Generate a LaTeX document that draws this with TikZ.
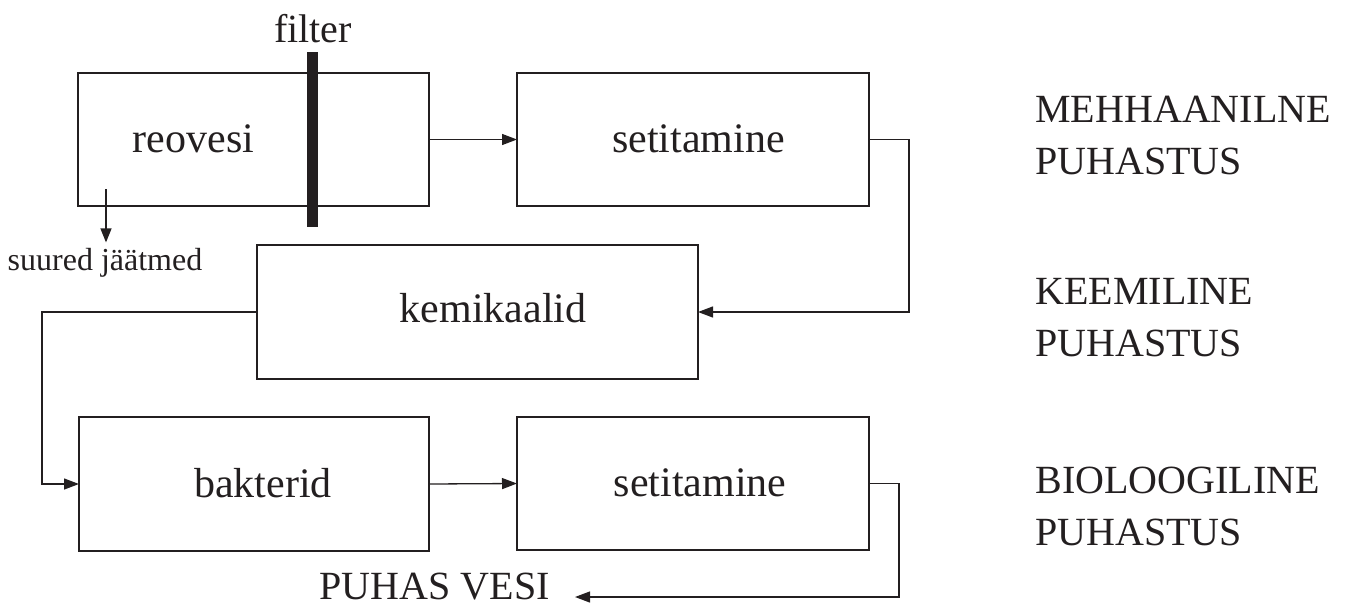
\documentclass[tikz,border=0pt]{standalone}
\usepackage{fontspec}
\setmainfont{Liberation Serif}
\usetikzlibrary{arrows.meta}
\definecolor{ink}{HTML}{231F20}
\begin{document}
\begin{tikzpicture}[x=0.5pt,y=-0.5pt,
  box/.style={draw=ink, line width=0.65pt, rectangle, inner sep=0pt, outer sep=0pt},
  boxtext/.style={text=ink, inner sep=0pt, anchor=base, font=\fontsize{21}{25}\selectfont},
  sidetext/.style={text=ink, inner sep=0pt, anchor=west, align=left, font=\fontsize{20}{26}\selectfont},
  conn/.style={draw=ink, line width=0.65pt},
  arr/.style={conn, -{Triangle[length=7.5pt,width=5.5pt]}},
  smallarr/.style={conn, -{Triangle[length=7pt,width=5.5pt]}}]
\useasboundingbox (0,0) rectangle (1349,606);

% boxes
\node[box, minimum width=175.5pt, minimum height=66.5pt] (b1) at (253.5,139.5) {};
\node[box, minimum width=176pt, minimum height=66.5pt] (b2) at (693,139.5) {};
\node[box, minimum width=220.5pt, minimum height=67pt] (b3) at (477.5,312) {};
\node[box, minimum width=175pt, minimum height=67pt] (b4) at (254,484) {};
\node[box, minimum width=176pt, minimum height=66.5pt] (b5) at (693,483.5) {};

% box texts
\node[boxtext] (t1) at (193.5,152) {reovesi};
\node[boxtext] (t2) at (698.5,152) {setitamine};
\node[boxtext] (t3) at (493,322) {kemikaalid};
\node[boxtext] (t4) at (263,497) {bakterid};
\node[boxtext] (t5) at (700,496) {setitamine};

% filter
\node[fill=ink, inner sep=0pt, minimum width=5.5pt, minimum height=87.5pt] (bar) at (312.5,139.5) {};
\node[text=ink, inner sep=0pt, anchor=base, font=\fontsize{20}{24}\selectfont] (filt) at (313,42) {filter};

% suured jäätmed
\coordinate (sj0) at (106,189);
\node[text=ink, inner sep=2.5pt, anchor=base, font=\fontsize{16}{19}\selectfont] (sj) at (105,270) {suured jäätmed};
\draw[smallarr] (sj0) -- (sj0 |- sj.north);

% connectors
\draw[arr] (b1.east) -- (b2.west);
\draw[arr] (b2.east) -- ++(40,0) |- (b3.east);
\draw[arr] (b3.west) -- ++(-215,0) |- (b4.west);
\draw[arr] (b4.east) -- (b5.west);

% output
\node[text=ink, inner sep=0pt, anchor=base east, font=\fontsize{20}{24}\selectfont] (pv) at (550,599) {PUHAS VESI};
\coordinate (pvend) at (575,597);
\draw[arr] (b5.east) -- ++(30,0) |- (pvend);

% side labels
\node[sidetext] (s1) at (1035,135) {MEHHAANILNE\\PUHASTUS};
\node[sidetext] (s2) at (1035,318) {KEEMILINE\\PUHASTUS};
\node[sidetext] (s3) at (1035,506) {BIOLOOGILINE\\PUHASTUS};
\end{tikzpicture}
\end{document}
